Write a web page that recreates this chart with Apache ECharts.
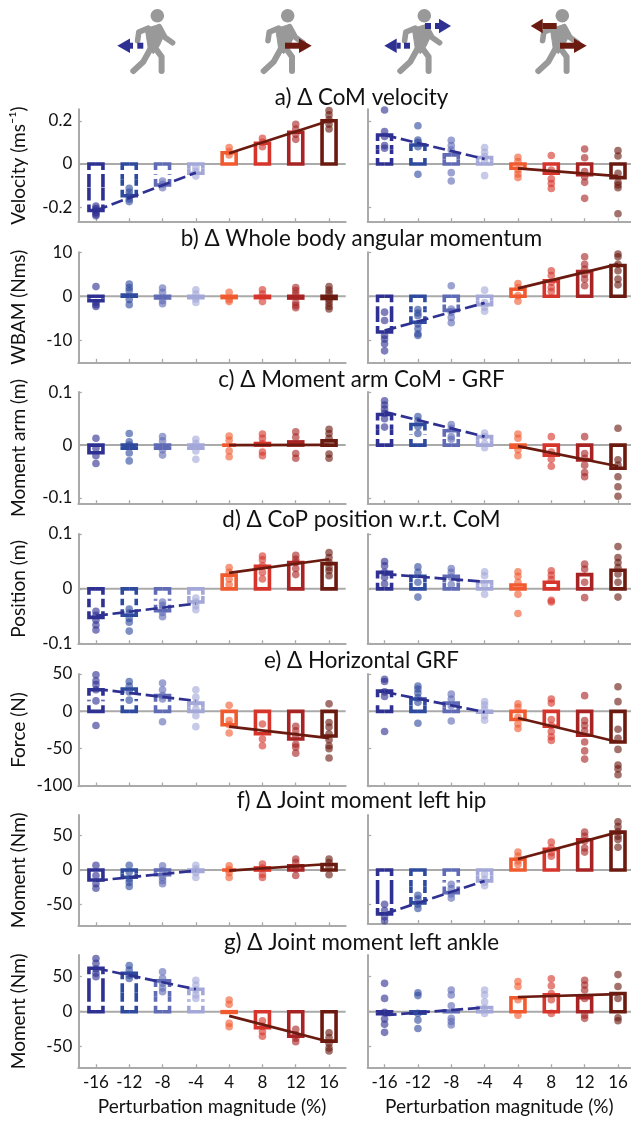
<!DOCTYPE html>
<html><head><meta charset="utf-8">
<style>html,body{margin:0;padding:0;background:#fff}#c{width:631px;height:1121px}</style>
<script src="https://cdn.jsdelivr.net/npm/echarts@6/dist/echarts.min.js"></script>
</head><body><div id="c"></div>
<script>
const tickLabels=['-16','-12','-8','-4','4','8','12','16'];
const xPositions=[1,2,3,4,5,6,7,8];
const palette=['#2e3192','#2e4a9e','#5f6bb5','#a3a8d8','#f15a2e','#d7352b','#a82323','#6b1a10'];
const xAxisTitle='Perturbation magnitude (%)';
const titles=['a) Δ CoM velocity','b) Δ Whole body angular momentum','c) Δ Moment arm CoM - GRF','d) Δ CoP position w.r.t. CoM','e) Δ Horizontal GRF','f) Δ Joint moment left hip','g) Δ Joint moment left ankle'];
const yNames=['Velocity (ms⁻¹)','WBAM (Nms)','Moment arm (m)','Position (m)','Force (N)','Moment (Nm)','Moment (Nm)'];
const yTicks=[[-0.2,0,0.2],[-10,0,10],[-0.1,0,0.1],[-0.1,0,0.1],[-100,-50,0,50],[-50,0,50],[-50,0,50]];
const yRanges=[[-0.267,0.253],[-15,10],[-0.111,0.1005],[-0.1,0.1],[-100,50],[-81,80],[-80,81]];

const aLeftBars=[-0.215,-0.147,-0.097,-0.043,0.052,0.096,0.147,0.2];
const aLeftDots=[[-0.195,-0.205,-0.213,-0.224,-0.232,-0.239],[-0.113,-0.131,-0.147,-0.162,-0.174],[-0.079,-0.094,-0.11],[-0.017,-0.035,-0.056],[0.076,0.057,0.042],[0.119,0.1,0.08],[0.184,0.162,0.137,0.114],[0.247,0.227,0.204,0.184,0.162]];
const aLeftDash=[-0.215,-0.04];const aLeftSolid=[0.05,0.2];
const aRightBars=[0.134,0.088,0.042,0.03,-0.02,-0.043,-0.05,-0.063];
const aRightDots=[[0.25,0.15,0.127,0.085,0.073],[0.177,0.111,0.1,0.08,-0.048],[0.11,0.085,0.065,-0.04,-0.079],[0.076,0.054,0.034,0.014,-0.054],[0.031,0.011,-0.028,-0.046,-0.063],[0.039,-0.028,-0.069,-0.09,-0.113],[0.069,0.029,-0.035,-0.059,-0.085,-0.159],[0.062,0.037,-0.043,-0.085,-0.097,-0.11,-0.23]];
const aRightDash=[0.134,0.023];const aRightSolid=[-0.02,-0.056];

const bLeftBars=[-1,0.3,-0.4,-0.3,-0.3,-0.3,-0.4,-0.5];
const bLeftDots=[[2.2,-1.4,-1.9,-2.3],[2.8,2,1.3,-0.75,-1.9],[1.9,0.9,-1,-1.7],[1.5,0.5,-0.6,-1.4],[0.9,-0.75,-1.2],[1.5,0.5,-1.2],[2,1.3,0.5,-1.4,-2.1,-2.6],[2.2,1.4,0.7,-0.8,-1.5,-2.3,-2.9]];
const bLeftDash=null;const bLeftSolid=null;
const bRightBars=[-8.1,-5.9,-3.2,-1.9,1.6,3.5,5.6,7];
const bRightDots=[[-3.6,-5.5,-8.9,-9.7,-10.8,-12.4],[-3,-3.8,-4.4,-6.3,-7.4,-8.5,-8.9],[2.4,-2.9,-3.6,-4.8,-6],[1.4,-1.4,-2.5,-3.4],[2.9,2,0.15,-1.1],[5.8,4.7,3.2,2,1.1],[9,7.3,6.2,5,3.9,2.4],[9.6,9,7.3,5.8,3.9,2.6]];
const bRightDash=[-7.8,-1.5];const bRightSolid=[1.8,7.3];

const cLeftBars=[-0.0145,-0.006,-0.006,-0.006,0,0.003,0.006,0.008];
const cLeftDots=[[0.013,-0.006,-0.02,-0.035],[0.022,0.006,0,-0.015,-0.03],[0.016,0.008,-0.009,-0.019],[0.011,0.003,-0.011,-0.027],[0.017,0.009,-0.011,-0.022],[0.021,0.013,0.003,-0.013,-0.02],[0.025,0.015,-0.016,-0.025],[0.03,0.022,0.013,-0.017,-0.025]];
const cLeftDash=null;const cLeftSolid=[0,0.0005];
const cRightBars=[0.058,0.039,0.027,0.016,-0.004,-0.019,-0.028,-0.044];
const cRightDots=[[0.084,0.076,0.068,0.06,0.05,0.034],[0.054,0.046,0.035,0.022],[0.039,0.032,0.016,0.011],[0.023,0.016,0.003,-0.005],[0.021,0.013,-0.009,-0.02],[0.016,-0.013,-0.027,-0.04],[0.016,-0.016,-0.025,-0.038,-0.052,-0.06],[0.032,-0.028,-0.038,-0.06,-0.079,-0.097]];
const cRightDash=[0.063,0.016];const cRightSolid=[-0.002,-0.04];

const dLeftBars=[-0.052,-0.048,-0.04,-0.024,0.025,0.041,0.048,0.046];
const dLeftDots=[[-0.041,-0.048,-0.057,-0.066,-0.075],[-0.037,-0.044,-0.054,-0.061,-0.077],[-0.024,-0.03,-0.036,-0.043,-0.051],[-0.017,-0.024,-0.031,-0.038],[0.039,0.03,0.018,0.008],[0.06,0.053,0.042,0.03,0.018],[0.061,0.054,0.048,0.037,0.026],[0.066,0.057,0.048,0.039,0.033,0.024]];
const dLeftDash=[-0.049,-0.027];const dLeftSolid=[0.029,0.054];
const dRightBars=[0.03,0.023,0.023,0.013,0.007,0.012,0.026,0.034];
const dRightDots=[[0.05,0.042,0.03,0.021,0.009],[0.04,0.03,0.012,-0.015],[0.037,0.03,0.021,0.008],[0.031,0.024,0.008,-0.01],[0.031,0.023,0.012,-0.01,-0.045],[0.033,0.025,0.017,-0.021,-0.024],[0.045,0.036,0.012,-0.016],[0.077,0.057,0.048,0.039,0.027,0.012,-0.015]];
const dRightDash=[0.027,0.013];const dRightSolid=null;

const eLeftBars=[29,30,21,11,-18,-30,-37,-33];
const eLeftDots=[[49,41,36,29,14,-19],[40,34,26,15],[38,29,21,16.5,-14],[29,19,11,3,-6,-20.5],[8,-12.5,-18,-29],[-17,-37,-46],[-20,-26,-33,-44,-48,-56],[10,-15,-21,-30,-38,-46,-50,-62.5]];
const eLeftDash=[30,14];const eLeftSolid=[-20.5,-36];
const eRightBars=[27,16.5,11,-1,-11,-20,-32,-41];
const eRightDots=[[43,40,26,20,-27],[34,30,24.5,18,12,-16],[23,16.5,7.5,-13],[13,8.5,3,-6,-12],[10,5.4,-8,-17,-23],[16.5,11,-11,-19,-27,-34,-39],[21,-12.5,-19,-26,-41,-53,-64],[33,13,-24,-36,-51,-72,-77,-85]];
const eRightDash=[26,-1];const eRightSolid=[-9,-41];

const fLeftBars=[-14.5,-10.5,-7,-2,0,3,6,8];
const fLeftDots=[[7,-8,-20,-26.5],[7,-3,-13,-18,-24],[6,-1,-11,-15.5,-20],[7,1.5,-4,-11],[6,0.5,-4,-11],[8.7,3,-6,-11],[16,11,1.5,-8],[16,11,4,-7]];
const fLeftDash=[-15.5,-1];const fLeftSolid=[-1,8.7];
const fRightBars=[-64,-48,-33,-16,15.5,30,44,55];
const fRightDots=[[-50,-59,-68,-74],[-37,-42.5,-50,-56],[-21,-27,-35,-41],[-6,-13.5,-18,-23],[26,20,13,8],[40.5,32,25,20],[55,49,42,32,26],[70,63,55.5,49,44.5,33]];
const fRightDash=[-64,-16];const fRightSolid=[16,55];

const gLeftBars=[62,55,44,32,-1,-23,-35,-42];
const gLeftDots=[[76,69,61,55,50],[66,59.5,52,47.6],[57,47.6,40.5,34,28.6],[45,38,31,24,19],[16.7,10.5,-16.7,-21.4],[-13,-21,-28.6,-35],[-25,-33,-38,-43],[-30,-37,-45,-52,-56]];
const gLeftDash=[62,32];const gLeftSolid=[-6,-43];
const gRightBars=[-3,-2,1,6,20,24,20,26];
const gRightDots=[[40.5,19,-1,-10.5,-18,-29.5],[27,23,-2.4,-12,-24],[31,24,8.6,-9.5,-14,-19],[31,24,14,5,-2.4],[43,36,17,-5],[47,37,26,17,-2.4],[45,38,31,19,-5,-9.5],[53,36,19,-8.6,-13]];
const gRightDash=[-5,6];const gRightSolid=[21,25];

const panelData=[
 [aLeftBars,aLeftDots,aLeftDash,aLeftSolid,aRightBars,aRightDots,aRightDash,aRightSolid],
 [bLeftBars,bLeftDots,bLeftDash,bLeftSolid,bRightBars,bRightDots,bRightDash,bRightSolid],
 [cLeftBars,cLeftDots,cLeftDash,cLeftSolid,cRightBars,cRightDots,cRightDash,cRightSolid],
 [dLeftBars,dLeftDots,dLeftDash,dLeftSolid,dRightBars,dRightDots,dRightDash,dRightSolid],
 [eLeftBars,eLeftDots,eLeftDash,eLeftSolid,eRightBars,eRightDots,eRightDash,eRightSolid],
 [fLeftBars,fLeftDots,fLeftDash,fLeftSolid,fRightBars,fRightDots,fRightDash,fRightSolid],
 [gLeftBars,gLeftDots,gLeftDash,gLeftSolid,gRightBars,gRightDots,gRightDash,gRightSolid]
];

// layout
const FONT='Lato';
const GRAY='#aaaaaa',BLUE='#2e3192',RED='#6b1a10';
const rowBox=[[109.3,221.7],[252.3,362.3],[392,503.7],[534,643.7],[674,786],[815,925.7],[955,1067.7]];
const rightBottom=[221.7,362.3,503.7,643.7,786,923.5,1067.7];
const rightRange=[null,null,null,null,null,[-78,80],null];
const titleY=[97.5,238.5,379.5,520,660.5,800.5,942.5];
const colX=[{left:78.3,right:345.7,xMin:0.47,xMax:8.5},{left:367.7,right:631,xMin:0.494,xMax:8.39}];
const BOX_HALF=7,BOX_LW=3.6;

// hollow boxes, dashed for the negative perturbations, drawn through the axis scales
function renderBox(params,api){
  const pos=api.value(0),val=api.value(1),i=Math.round(pos)-1;
  const [cx,y0]=api.coord([pos,0]);
  const yv=api.coord([pos,val])[1];
  const color=palette[i],x1=cx-BOX_HALF,x2=cx+BOX_HALF;
  const top=Math.min(y0,yv),bot=Math.max(y0,yv),mid=(top+bot)/2;
  if(i>=4){
    return {type:'rect',shape:{x:x1,y:top,width:x2-x1,height:bot-top},style:{fill:null,stroke:color,lineWidth:BOX_LW}};
  }
  const half=(ye,ym,x)=>({type:'polyline',shape:{points:[[cx,ye],[x,ye],[x,ym]]},style:{fill:null,stroke:color,lineWidth:BOX_LW,lineDash:[13,4],lineJoin:'miter'}});
  return {type:'group',children:[half(top,mid,x1),half(top,mid,x2),half(bot,mid,x1),half(bot,mid,x2)]};
}

const grids=[],xAxes=[],yAxes=[],series=[];
panelData.forEach((row,r)=>{
  [0,1].forEach(c=>{
    const g=grids.length,col=colX[c],bottomRow=r===panelData.length-1;
    const top=rowBox[r][0],bot=c?rightBottom[r]:rowBox[r][1];
    const range=(c&&rightRange[r])||yRanges[r];
    grids.push({left:col.left,top:top,width:col.right-col.left,height:bot-top,containLabel:false});
    xAxes.push({type:'value',gridIndex:g,min:col.xMin,max:col.xMax,position:'bottom',splitLine:{show:false},
      axisLine:{show:true,onZero:false,lineStyle:{color:GRAY,width:2}},
      axisTick:{show:true,inside:true,length:3.5,customValues:xPositions,lineStyle:{color:GRAY,width:1.3}},
      axisLabel:{show:bottomRow,customValues:xPositions,margin:6,color:'#111',fontFamily:FONT,fontSize:17,formatter:v=>tickLabels[Math.round(v)-1]},
      name:bottomRow?xAxisTitle:'',nameLocation:'middle',nameGap:30,nameTextStyle:{color:'#111',fontFamily:FONT,fontSize:19}});
    yAxes.push({type:'value',gridIndex:g,min:range[0],max:range[1],position:'left',splitLine:{show:false},
      axisLine:{show:true,onZero:false,lineStyle:{color:GRAY,width:2}},
      axisTick:{show:true,inside:true,length:3.5,customValues:yTicks[r],lineStyle:{color:GRAY,width:1.3}},
      axisLabel:{show:c===0,customValues:yTicks[r],margin:6,color:'#111',fontFamily:FONT,fontSize:17,formatter:v=>String(v)},
      name:c===0?yNames[r]:'',nameLocation:'middle',nameGap:50,nameRotate:90,nameTextStyle:{color:'#111',fontFamily:FONT,fontSize:19}});
    const [bars,dots,dash,solid]=row.slice(c*4,c*4+4);
    const ax={xAxisIndex:g,yAxisIndex:g};
    series.push({type:'line',...ax,silent:true,symbol:'none',z:1,animation:false,data:[[col.xMin,0],[col.xMax,0]],lineStyle:{color:GRAY,width:2}});
    series.push({type:'custom',...ax,z:2,animation:false,silent:true,clip:false,renderItem:renderBox,encode:{x:0,y:1},data:bars.map((v,i)=>[xPositions[i],v])});
    const pts=[];dots.forEach((arr,i)=>arr.forEach(v=>pts.push({value:[xPositions[i],v],itemStyle:{color:palette[i],opacity:0.62}})));
    series.push({type:'scatter',...ax,symbolSize:7.6,z:3,animation:false,silent:true,data:pts});
    if(dash)series.push({type:'line',...ax,symbol:'none',z:4,animation:false,data:[[1,dash[0]],[4,dash[1]]],lineStyle:{color:BLUE,width:2.7,type:[12,4.7]}});
    if(solid)series.push({type:'line',...ax,symbol:'none',z:4,animation:false,data:[[5,solid[0]],[8,solid[1]]],lineStyle:{color:RED,width:2.7}});
  });
});

const titleOpts=titles.map((t,i)=>({text:t,left:361.5,top:titleY[i],textAlign:'center',textVerticalAlign:'middle',padding:0,textStyle:{fontFamily:FONT,fontSize:22.4,fontWeight:'normal',color:'#111'}}));

// walker icons
const GREY='#999999';
function walker(hx,hy){
  const st=w=>({stroke:GREY,lineWidth:w,lineCap:'round',lineJoin:'round',fill:null});
  const pl=(pts,w)=>({type:'polyline',shape:{points:pts.map(p=>[hx+p[0],hy+p[1]])},style:st(w),silent:true});
  return [
   {type:'circle',shape:{cx:hx,cy:hy,r:6.8},style:{fill:GREY},silent:true},
   pl([[-9,12.5],[-18.5,16.5],[-19.7,25]],5.6),
   {type:'polygon',shape:{points:[[-12,13],[2.7,8.5],[6.5,20],[2,30],[-4,38],[-9,33]].map(p=>[hx+p[0],hy+p[1]])},style:{fill:GREY,stroke:GREY,lineWidth:1,lineJoin:'round'},silent:true},
   pl([[-5.7,31],[-14,46],[-24,55.3]],6),
   pl([[-3,31],[4.3,41],[4.3,55.3]],6),
   pl([[2,11],[7.7,21.7],[15.3,27]],5.6)
  ];
}
function head(tip,base,y,color){return {type:'polygon',shape:{points:[[tip,y],[base,y-7.3],[base,y+7.3]]},style:{fill:color},silent:true,z:10};}
function seg(x1,x2,y,color){return {type:'rect',shape:{x:x1,y:y-3,width:x2-x1,height:6},style:{fill:color},silent:true,z:10};}
const graphics=[
 ...walker(157.3,15.7),...walker(287.7,15.7),...walker(424.3,15.7),...walker(562.3,15.7),
 head(117.3,130,45.7,BLUE),seg(130,133,45.7,BLUE),seg(137.3,143.3,45.7,BLUE),
 head(311.7,299,45.7,RED),seg(285,299.5,45.7,RED),
 head(384.3,396.7,45.7,BLUE),seg(396.7,400.7,45.7,BLUE),seg(404,410,45.7,BLUE),
 head(451,439,26,BLUE),seg(425,431,26,BLUE),seg(435,439.5,26,BLUE),
 head(530.7,542.7,26,RED),seg(542.5,556.7,26,RED),
 seg(560,574.5,45.7,RED),head(586.7,574,45.7,RED)
];

const chart=echarts.init(document.getElementById('c'),null,{renderer:'canvas'});
chart.setOption({animation:false,backgroundColor:'#fff',title:titleOpts,grid:grids,xAxis:xAxes,yAxis:yAxes,series:series,graphic:{elements:graphics},legend:{show:false},tooltip:{show:false}});
</script></body></html>
